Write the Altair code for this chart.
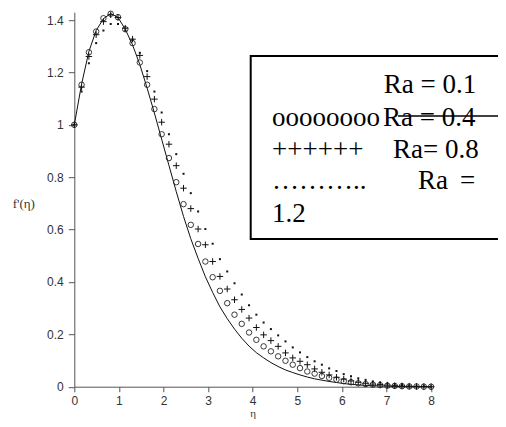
import altair as alt
import pandas as pd

# ---- data ----
eta = [0.0, 0.163, 0.327, 0.49, 0.653, 0.816, 0.98, 1.143, 1.306, 1.469,
       1.633, 1.796, 1.959, 2.122, 2.286, 2.449, 2.612, 2.776, 2.939, 3.102,
       3.265, 3.429, 3.592, 3.755, 3.918, 4.082, 4.245, 4.408, 4.571, 4.735,
       4.898, 5.061, 5.224, 5.388, 5.551, 5.714, 5.878, 6.041, 6.204, 6.367,
       6.531, 6.694, 6.857, 7.02, 7.184, 7.347, 7.51, 7.673, 7.837, 8.0]

ra01 = [1.0, 1.155, 1.28, 1.36, 1.405, 1.425, 1.41, 1.365, 1.305, 1.23,
        1.14, 1.045, 0.945, 0.845, 0.745, 0.65, 0.565, 0.49, 0.42, 0.36,
        0.305, 0.26, 0.22, 0.185, 0.155, 0.13, 0.11, 0.092, 0.077, 0.064,
        0.054, 0.045, 0.037, 0.03, 0.025, 0.02, 0.016, 0.012, 0.009, 0.007,
        0.005, 0.004, 0.003, 0.002, 0.001, 0.001, 0.0, 0.0, 0.0, 0.0]

ra04 = [1.0, 1.153, 1.277, 1.356, 1.407, 1.424, 1.411, 1.365, 1.312, 1.238,
        1.153, 1.06, 0.964, 0.873, 0.781, 0.697, 0.618, 0.545, 0.478, 0.418,
        0.366, 0.319, 0.275, 0.24, 0.207, 0.179, 0.154, 0.135, 0.116, 0.099,
        0.084, 0.071, 0.058, 0.05, 0.041, 0.034, 0.027, 0.021, 0.017, 0.013,
        0.01, 0.008, 0.006, 0.004, 0.003, 0.002, 0.001, 0.001, 0.0, 0.0]

ra08 = [1.0, 1.144, 1.261, 1.344, 1.394, 1.42, 1.41, 1.369, 1.327, 1.265,
        1.184, 1.098, 1.01, 0.926, 0.844, 0.758, 0.68, 0.602, 0.542, 0.478,
        0.421, 0.373, 0.332, 0.295, 0.262, 0.226, 0.198, 0.176, 0.154, 0.129,
        0.11, 0.097, 0.084, 0.068, 0.055, 0.045, 0.036, 0.029, 0.022, 0.017,
        0.013, 0.01, 0.008, 0.006, 0.004, 0.003, 0.002, 0.001, 0.001, 0.0]

ra12 = [1.0, 1.127, 1.235, 1.312, 1.36, 1.385, 1.385, 1.36, 1.325, 1.275,
        1.205, 1.127, 1.047, 0.964, 0.888, 0.813, 0.739, 0.669, 0.602, 0.546,
        0.487, 0.44, 0.395, 0.352, 0.311, 0.275, 0.245, 0.22, 0.196, 0.173,
        0.15, 0.131, 0.113, 0.097, 0.084, 0.07, 0.06, 0.048, 0.04, 0.032,
        0.026, 0.02, 0.016, 0.012, 0.009, 0.007, 0.005, 0.003, 0.002, 0.001]

x_ticks = [0, 0.5, 1, 1.5, 2, 2.5, 3, 3.5, 4, 4.5, 5, 5.5, 6, 6.5, 7, 7.5, 8]
y_ticks = [0, 0.1, 0.2, 0.3, 0.4, 0.5, 0.6, 0.7, 0.8, 0.9, 1.0, 1.1, 1.2, 1.3, 1.4]

legend_lines = ["Ra = 0.1", "oooooooo", "Ra = 0.4", "++++++", "Ra= 0.8",
                "\u2026\u2026\u2026..", "Ra", "=", "1.2"]

df = pd.DataFrame({"eta": eta, "r1": ra01, "r4": ra04, "r8": ra08, "r12": ra12})

W, H = 356.8, 374.5
PL, PT = 66.3, 4.2
TOTAL_W, TOTAL_H = 490, 411
AX = "#555555"
RIGHT = TOTAL_W - PL  # the frame runs to the right edge of the picture

xs = alt.Scale(domain=[0, 8], nice=False, zero=False)
ys = alt.Scale(domain=[0, 1.43], nice=False, zero=False)

x_axis = alt.Axis(
    values=x_ticks,
    labelExpr="datum.value % 1 == 0 ? format(datum.value, '~g') : ''",
    tickSize={"condition": {"test": "datum.value % 1 == 0", "value": 5}, "value": 3},
    grid=False, domainColor=AX, tickColor=AX, labelColor="#333333",
    labelFont="Liberation Sans", labelFontSize=12, labelPadding=4,
    labelOverlap=False, labelFlush=False,
    title="\u03b7", titleFont="Liberation Serif", titleFontSize=11,
    titleFontWeight="normal", titleColor="#333333",
    titleBaseline="bottom", titleY=32,
)
y_axis = alt.Axis(
    values=y_ticks,
    labelExpr="abs(datum.value*5 - round(datum.value*5)) < 0.001 ? format(datum.value, '~g') : ''",
    tickSize={"condition": {"test": "abs(datum.value*5 - round(datum.value*5)) < 0.001", "value": 6}, "value": 3},
    grid=False, domainColor=AX, tickColor=AX, labelColor="#333333",
    labelFont="Liberation Sans", labelFontSize=12, labelPadding=5,
    labelOverlap=False, labelFlush=False,
    title="f'(\u03b7)", titleFont="Liberation Serif", titleFontSize=13,
    titleFontWeight="normal", titleColor="#333333", titleAngle=0,
    titleAlign="center", titleBaseline="middle", titleX=-51, titleY=191,
)

base = alt.Chart(df)
line = base.mark_line(color="#111111", strokeWidth=1).encode(
    x=alt.X("eta:Q", scale=xs, axis=x_axis),
    y=alt.Y("r1:Q", scale=ys, axis=y_axis),
)
circ = base.mark_point(shape="circle", filled=False, size=30, color="#222222",
                       strokeWidth=0.9, opacity=1).encode(
    x=alt.X("eta:Q", scale=xs), y=alt.Y("r4:Q", scale=ys))
plus = base.mark_point(shape="M-1,0L1,0M0,-1L0,1", filled=False, size=42,
                       color="#111111", strokeWidth=1, opacity=1).encode(
    x=alt.X("eta:Q", scale=xs), y=alt.Y("r8:Q", scale=ys))
dots = base.mark_point(shape="square", filled=True, size=4, color="#111111",
                       opacity=1).encode(
    x=alt.X("eta:Q", scale=xs), y=alt.Y("r12:Q", scale=ys))

# legend frame as an open polyline: top, left and bottom sides
frame = pd.DataFrame({
    "px": [RIGHT, 176.4, 176.4, RIGHT],
    "py": [43.8, 43.8, 226.8, 226.8],
    "o": [0, 1, 2, 3],
})
box = alt.Chart(frame).mark_line(color="black", strokeWidth=2,
                                 strokeJoin="miter").encode(
    x=alt.X("px:Q", scale=None), y=alt.Y("py:Q", scale=None), order="o:Q")
strike_df = pd.DataFrame({"px": [323.7, RIGHT], "py": [103.8, 103.8], "o": [0, 1]})
strike = alt.Chart(strike_df).mark_line(color="black", strokeWidth=1.5).encode(
    x=alt.X("px:Q", scale=None), y=alt.Y("py:Q", scale=None), order="o:Q")

def txt(s, x, y):
    return alt.Chart(pd.DataFrame({"t": [s]})).mark_text(
        font="Liberation Serif", fontSize=27, color="black", align="left",
        baseline="alphabetic").encode(text="t:N", x=alt.value(x), y=alt.value(y))

texts = [
    txt(legend_lines[0], 309.5, 81),
    txt(legend_lines[1], 197.7, 114),
    txt(legend_lines[2], 308.7, 114),
    txt(legend_lines[3], 197.7, 145.5),
    txt(legend_lines[4], 318.7, 145.5),
    txt(legend_lines[5], 197.7, 177),
    txt(legend_lines[6], 343.7, 177),
    txt(legend_lines[7], 385.7, 177),
    txt(legend_lines[8], 197.7, 209.5),
]

chart = alt.layer(line, circ, plus, dots, box, strike, *texts).properties(
    width=W, height=H,
    autosize=alt.AutoSizeParams(type="none"),
    padding={"left": PL, "top": PT, "right": TOTAL_W - PL - W, "bottom": TOTAL_H - PT - H},
    background="white",
).configure_view(stroke=None)

chart.save("out.html", embed_options={"renderer": "svg", "actions": False})
